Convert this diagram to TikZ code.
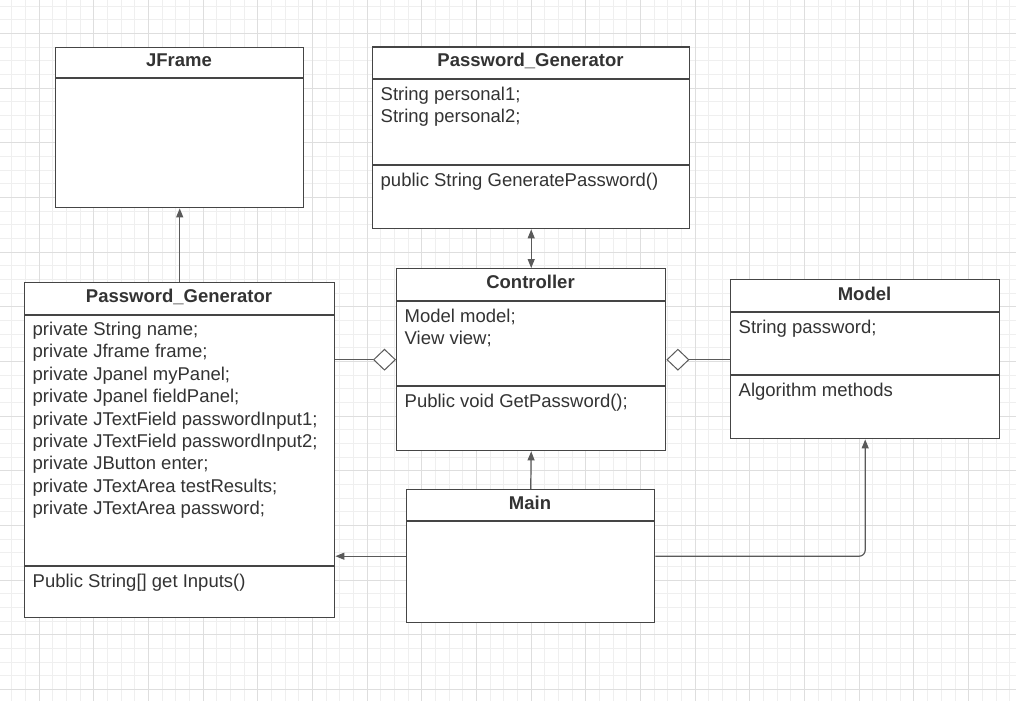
\documentclass[tikz,border=0pt]{standalone}
\usepackage{fontspec}
\setmainfont{Liberation Sans}
\usetikzlibrary{arrows.meta,shapes.geometric}
\definecolor{gridminor}{HTML}{EFEFEF}
\definecolor{gridmajor}{HTML}{DEDEDE}
\definecolor{boxc}{HTML}{454545}
\definecolor{linec}{HTML}{5A5A5A}
\definecolor{txtc}{HTML}{333333}
\newcommand{\bodyfont}{\fontsize{18.5}{22.4}\selectfont}
\begin{document}
\begin{tikzpicture}[x=1pt,y=-1pt,
 umlbox/.style={draw=boxc, line width=1.4pt, fill=white, rectangle, inner sep=0pt, anchor=north west},
 sepline/.style={draw=boxc, line width=1.4pt},
 body/.style={anchor=base west, inner sep=0pt, text=txtc, font=\bodyfont},
 head/.style={anchor=base, inner sep=0pt, text=txtc, font=\bodyfont\bfseries},
 conn/.style={draw=linec, line width=1.2pt},
 tip/.style={-{Triangle[width=7pt,length=9pt]}},
 dtip/.style={{Triangle[width=7pt,length=9pt]}-{Triangle[width=7pt,length=9pt]}},
 agg/.style={diamond, draw=linec, line width=1pt, fill=white, minimum width=22pt, minimum height=21pt, inner sep=0pt}]
\useasboundingbox (0,0) rectangle (1016,701);
\fill[white] (0,0) rectangle (1016,701);
% grid
\foreach \i in {-3,...,72} {
  \pgfmathsetmacro\gx{39+13.67*\i}
  \draw[gridminor, line width=0.8pt] (\gx,0) -- (\gx,701);
}
\foreach \i in {-3,...,50} {
  \pgfmathsetmacro\gy{33.3+13.67*\i}
  \draw[gridminor, line width=0.8pt] (0,\gy) -- (1016,\gy);
}
\foreach \i in {-1,...,18} {
  \pgfmathsetmacro\gx{39+54.68*\i}
  \draw[gridmajor, line width=0.9pt] (\gx,0) -- (\gx,701);
}
\foreach \i in {-1,...,12} {
  \pgfmathsetmacro\gy{33.3+54.68*\i}
  \draw[gridmajor, line width=0.9pt] (0,\gy) -- (1016,\gy);
}

% boxes
\node[umlbox, minimum width=248pt, minimum height=160pt] (jf) at (55,47) {};
\node[umlbox, minimum width=317pt, minimum height=181.5pt] (tpg) at (372,46.5) {};
\node[umlbox, minimum width=269pt, minimum height=182pt] (ctrl) at (396,268) {};
\node[umlbox, minimum width=269pt, minimum height=159pt] (model) at (730,279) {};
\node[umlbox, minimum width=310pt, minimum height=335pt] (lpg) at (24,282) {};
\node[umlbox, minimum width=248pt, minimum height=133pt] (main) at (406,489) {};

% separators
\draw[sepline] (jf.west |- 0,78) -- (jf.east |- 0,78);
\draw[sepline] (tpg.west |- 0,79) -- (tpg.east |- 0,79);
\draw[sepline] (tpg.west |- 0,165) -- (tpg.east |- 0,165);
\draw[sepline] (ctrl.west |- 0,301) -- (ctrl.east |- 0,301);
\draw[sepline] (ctrl.west |- 0,386) -- (ctrl.east |- 0,386);
\draw[sepline] (model.west |- 0,312) -- (model.east |- 0,312);
\draw[sepline] (model.west |- 0,375) -- (model.east |- 0,375);
\draw[sepline] (lpg.west |- 0,315) -- (lpg.east |- 0,315);
\draw[sepline] (lpg.west |- 0,566) -- (lpg.east |- 0,566);
\draw[sepline] (main.west |- 0,521) -- (main.east |- 0,521);

% headers
\node[head] (jfh) at (179,66.5) {JFrame};
\node[head] (tpgh) at (530.5,66.5) {Password\_Generator};
\node[head] (ctrlh) at (530.5,288.5) {Controller};
\node[head] (modelh) at (864.5,300) {Model};
\node[head] (lpgh) at (179,302) {Password\_Generator};
\node[head] (mainh) at (530,509.5) {Main};

% body texts
\node[body] (tpga1) at (380.5,100.5) {String personal1;};
\node[body] (tpga2) at (380.5,122.9) {String personal2;};
\node[body] (tpgm1) at (380.5,186) {public String GeneratePassword()};
\node[body] (ctrla1) at (404.5,322) {Model model;};
\node[body] (ctrla2) at (404.5,344.4) {View view;};
\node[body] (ctrlm1) at (404.5,407.5) {Public void GetPassword();};
\node[body] (modela1) at (738.5,333.5) {String password;};
\node[body] (modelm1) at (738.5,396) {Algorithm methods};
\foreach \t [count=\i] in {private String name;, private Jframe frame;, private Jpanel myPanel;, private Jpanel fieldPanel;, private JTextField passwordInput1;, private JTextField passwordInput2;, private JButton enter;, private JTextArea testResults;, private JTextArea password;} {
  \node[body] (lpga\i) at (32.5,{335.5+22.4*(\i-1)}) {\t};
}
\node[body] (lpgm1) at (32.5,587) {Public String[] get Inputs()};

% connectors
\draw[conn, tip] (lpg.north) -- (jf.south);
\draw[conn, dtip] (tpg.south) -- (ctrl.north);
\node[agg, anchor=east] (dl) at (ctrl.west) {};
\node[agg, anchor=west] (dr) at (ctrl.east) {};
\draw[conn] (dl.west) -- (dl.west -| lpg.east);
\draw[conn] (dr.east) -- (dr.east -| model.west);
\draw[conn, tip] (main.north) -- (ctrl.south);
\draw[conn, tip] (main.west) -- (main.west -| lpg.east);
\draw[conn, tip, rounded corners=6pt] (main.east) -| (model.south);
\end{tikzpicture}
\end{document}
